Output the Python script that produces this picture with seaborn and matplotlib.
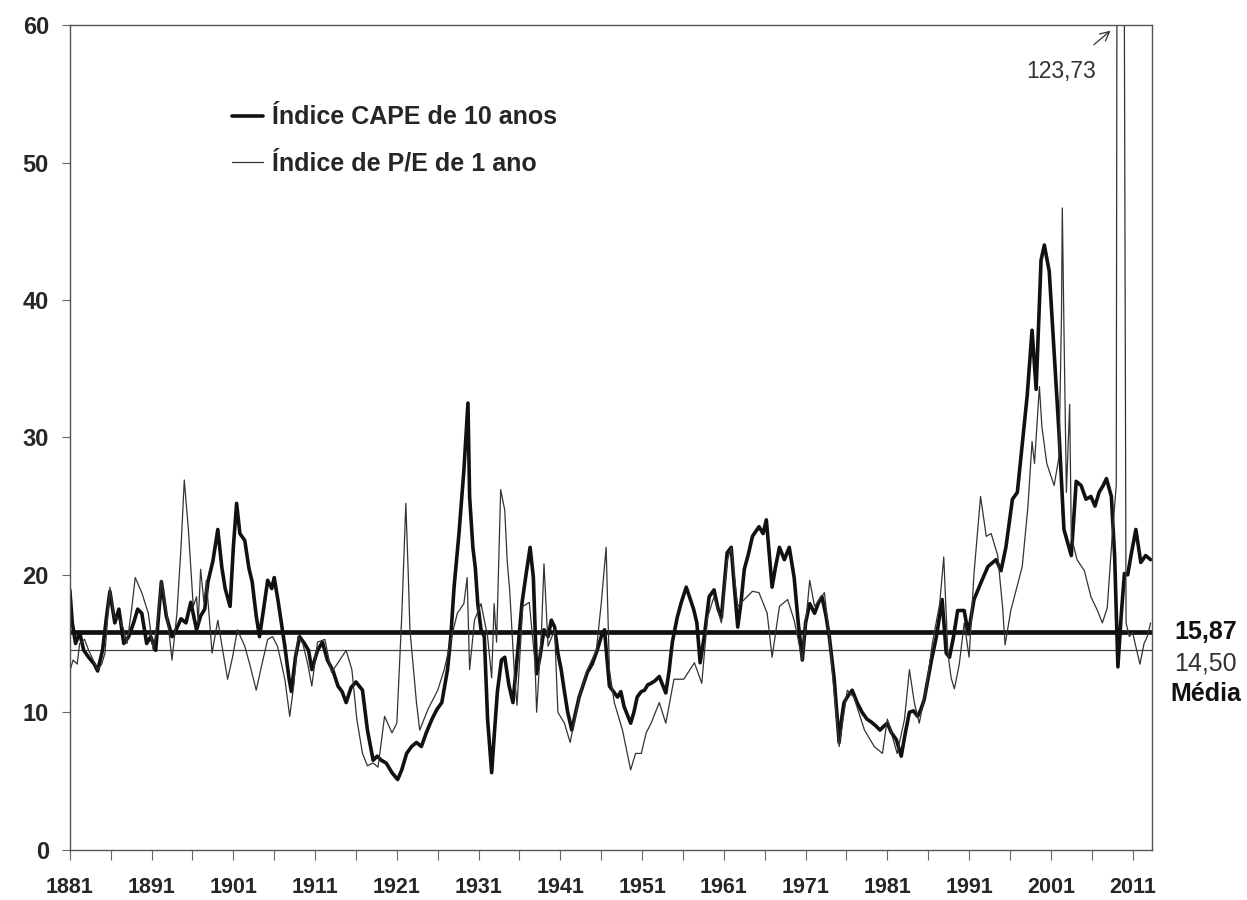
import matplotlib
matplotlib.use("Agg")
import matplotlib.pyplot as plt
from matplotlib.ticker import FixedLocator
import seaborn as sns

sns.set_theme(style="white")
plt.rcParams['font.family'] = ['Liberation Sans', 'DejaVu Sans']

# CAPE de 10 anos (linha grossa)
cape_year = [1881.0, 1881.3, 1881.7, 1882.2, 1882.7, 1883.3, 1884.0, 1884.4, 1885.0, 1885.5,
             1885.9, 1886.5, 1887.0, 1887.6, 1888.2, 1888.8, 1889.3, 1889.8, 1890.4, 1890.9,
             1891.5, 1892.2, 1892.8, 1893.5, 1894.0, 1894.6, 1895.2, 1895.8, 1896.5, 1897.0,
             1897.5, 1897.9, 1898.5, 1899.1, 1899.6, 1900.0, 1900.6, 1901.0, 1901.4, 1901.8,
             1902.4, 1902.9, 1903.3, 1903.8, 1904.2, 1904.7, 1905.2, 1905.7, 1906.0, 1906.5,
             1907.0, 1907.3, 1907.8, 1908.1, 1908.6, 1909.1, 1909.7, 1910.2, 1910.6, 1911.3,
             1911.9, 1912.5, 1913.2, 1913.8, 1914.3, 1914.8, 1915.4, 1916.0, 1916.8, 1917.4,
             1918.1, 1918.6, 1919.1, 1919.7, 1920.4, 1921.1, 1921.6, 1922.2, 1922.8, 1923.4,
             1924.0, 1924.6, 1925.3, 1925.9, 1926.5, 1927.2, 1927.6, 1928.0, 1928.6, 1929.2,
             1929.7, 1929.9, 1930.3, 1930.6, 1930.9, 1931.3, 1931.7, 1932.1, 1932.6, 1932.9,
             1933.3, 1933.8, 1934.2, 1934.7, 1935.2, 1935.8, 1936.3, 1936.8, 1937.3, 1937.7,
             1938.1, 1938.5, 1939.0, 1939.5, 1939.9, 1940.3, 1940.7, 1941.1, 1941.5, 1941.9,
             1942.4, 1942.8, 1943.3, 1943.8, 1944.3, 1944.9, 1945.5, 1946.0, 1946.4, 1947.0,
             1947.5, 1948.0, 1948.4, 1948.8, 1949.6, 1950.0, 1950.4, 1950.9, 1951.3, 1951.7,
             1952.1, 1952.6, 1953.1, 1953.9, 1954.3, 1954.7, 1955.3, 1955.8, 1956.4, 1956.8,
             1957.3, 1957.7, 1958.1, 1958.6, 1959.2, 1959.8, 1960.3, 1960.7, 1961.4, 1961.9,
             1962.3, 1962.7, 1963.1, 1963.5, 1964.0, 1964.5, 1965.3, 1965.8, 1966.2, 1966.9,
             1967.3, 1967.8, 1968.4, 1969.0, 1969.6, 1970.1, 1970.6, 1971.0, 1971.5, 1972.1,
             1972.6, 1973.0, 1973.5, 1973.9, 1974.5, 1975.1, 1975.4, 1975.7, 1976.2, 1976.7,
             1977.3, 1977.9, 1978.5, 1979.0, 1979.6, 1980.1, 1980.6, 1981.0, 1981.5, 1982.1,
             1982.7, 1983.2, 1983.7, 1984.2, 1984.7, 1985.1, 1985.5, 1986.0, 1986.4, 1987.0,
             1987.7, 1988.2, 1988.6, 1989.1, 1989.6, 1990.4, 1990.9, 1991.6, 1992.5, 1993.3,
             1994.3, 1994.9, 1995.5, 1996.3, 1996.9, 1997.5, 1998.1, 1998.7, 1999.2, 1999.8,
             2000.2, 2000.8, 2001.4, 2002.0, 2002.6, 2003.5, 2004.1, 2004.7, 2005.3, 2005.9,
             2006.4, 2006.9, 2007.4, 2007.8, 2008.4, 2008.8, 2009.2, 2009.6, 2010.0, 2010.4,
             2010.8, 2011.4, 2012.0, 2012.6, 2013.2]
cape_value = [18.9, 16.5, 15.0, 15.8, 14.5, 14.0, 13.5, 13.0, 14.5, 17.0,
              18.8, 16.5, 17.5, 15.0, 15.5, 16.5, 17.5, 17.2, 15.0, 15.5,
              14.5, 19.5, 17.0, 15.5, 16.0, 16.8, 16.5, 18.0, 16.0, 17.0,
              17.5, 19.5, 21.0, 23.3, 20.5, 19.0, 17.7, 22.0, 25.2, 23.0,
              22.5, 20.5, 19.5, 17.0, 15.5, 17.5, 19.6, 19.0, 19.8, 18.0,
              16.0, 14.8, 12.5, 11.5, 14.0, 15.5, 15.0, 14.5, 13.1, 14.5,
              15.1, 13.8, 13.0, 11.9, 11.5, 10.7, 11.8, 12.2, 11.6, 8.7,
              6.5, 6.8, 6.5, 6.3, 5.6, 5.1, 5.8, 7.0, 7.5, 7.8,
              7.5, 8.5, 9.5, 10.2, 10.7, 13.1, 15.5, 19.1, 23.0, 27.6,
              32.5, 25.7, 22.0, 20.5, 17.9, 16.0, 15.5, 9.5, 5.6, 8.2,
              11.5, 13.8, 14.0, 12.0, 10.7, 14.5, 17.9, 20.0, 22.0, 19.8,
              12.8, 14.0, 16.0, 15.5, 16.7, 16.2, 14.3, 13.1, 11.5, 10.0,
              8.7, 9.8, 11.1, 12.0, 12.9, 13.5, 14.5, 15.5, 16.0, 11.9,
              11.5, 11.1, 11.5, 10.4, 9.2, 10.0, 11.1, 11.5, 11.6, 12.0,
              12.1, 12.3, 12.6, 11.4, 13.0, 15.1, 16.9, 18.0, 19.1, 18.4,
              17.5, 16.5, 13.6, 15.5, 18.4, 18.9, 17.5, 16.9, 21.6, 22.0,
              19.0, 16.2, 18.0, 20.4, 21.5, 22.8, 23.5, 23.0, 24.0, 19.1,
              20.5, 22.0, 21.1, 22.0, 19.8, 16.5, 13.8, 16.5, 17.9, 17.2,
              18.0, 18.4, 17.0, 15.5, 12.4, 7.8, 9.5, 10.7, 11.2, 11.6,
              10.7, 10.0, 9.5, 9.3, 9.0, 8.7, 9.0, 9.2, 8.5, 8.0,
              6.8, 8.5, 10.0, 10.1, 9.7, 10.2, 10.9, 12.5, 13.8, 15.5,
              18.2, 14.3, 14.0, 15.5, 17.4, 17.4, 15.7, 18.2, 19.5, 20.6,
              21.1, 20.3, 22.0, 25.5, 26.0, 29.5, 33.0, 37.8, 33.5, 42.9,
              44.0, 42.1, 36.2, 30.3, 23.3, 21.4, 26.8, 26.5, 25.5, 25.7,
              25.0, 26.0, 26.5, 27.0, 25.7, 21.4, 13.3, 17.0, 20.1, 20.0,
              21.4, 23.3, 20.9, 21.4, 21.1]

# P/E de 1 ano (linha fina)
pe_year = [1881.0, 1881.4, 1881.9, 1882.2, 1882.8, 1883.3, 1883.7, 1884.4, 1884.9, 1885.3,
           1885.9, 1886.4, 1887.1, 1887.6, 1888.0, 1888.6, 1889.0, 1889.8, 1890.6, 1891.2,
           1891.7, 1892.2, 1893.0, 1893.5, 1894.1, 1894.6, 1895.0, 1895.5, 1896.1, 1896.5,
           1896.7, 1897.0, 1897.4, 1897.7, 1898.4, 1899.1, 1899.7, 1900.3, 1900.9, 1901.5,
           1902.4, 1903.0, 1903.8, 1904.5, 1905.2, 1905.8, 1906.4, 1906.9, 1907.3, 1907.9,
           1908.4, 1908.9, 1909.5, 1910.1, 1910.6, 1911.3, 1912.2, 1913.0, 1913.8, 1914.8,
           1915.5, 1916.1, 1916.8, 1917.4, 1918.1, 1918.7, 1919.5, 1920.4, 1921.0, 1921.6,
           1922.1, 1922.4, 1922.6, 1923.4, 1923.8, 1924.8, 1926.0, 1926.8, 1927.7, 1928.4,
           1929.2, 1929.6, 1929.9, 1930.5, 1931.3, 1932.1, 1932.6, 1932.9, 1933.2, 1933.7,
           1934.2, 1934.5, 1934.8, 1935.4, 1935.7, 1936.4, 1937.2, 1937.9, 1938.1, 1938.7,
           1939.0, 1939.5, 1940.3, 1940.7, 1941.5, 1942.2, 1943.3, 1944.3, 1945.4, 1946.0,
           1946.6, 1947.0, 1947.6, 1948.6, 1949.6, 1950.2, 1950.9, 1951.5, 1952.1, 1953.1,
           1953.9, 1954.9, 1956.1, 1957.4, 1958.3, 1959.0, 1959.8, 1960.7, 1961.4, 1961.9,
           1962.7, 1963.5, 1964.5, 1965.3, 1966.3, 1966.9, 1967.8, 1968.8, 1969.6, 1970.6,
           1971.5, 1972.1, 1973.3, 1973.9, 1974.5, 1975.1, 1976.1, 1976.9, 1978.2, 1979.4,
           1980.4, 1981.0, 1982.2, 1983.1, 1983.7, 1984.3, 1984.9, 1985.8, 1986.5, 1987.4,
           1987.9, 1988.4, 1988.8, 1989.2, 1989.8, 1990.4, 1991.0, 1991.6, 1992.4, 1993.1,
           1993.7, 1994.5, 1995.1, 1995.4, 1996.1, 1996.8, 1997.5, 1998.2, 1998.7, 1999.0,
           1999.6, 1999.9, 2000.5, 2001.4, 2002.0, 2002.3, 2002.4, 2002.6, 2002.9, 2003.3,
           2003.5, 2004.2, 2005.1, 2005.9, 2006.7, 2007.3, 2007.9, 2008.5, 2009.0, 2009.1,
           2009.5, 2009.9, 2010.2, 2010.6, 2011.0, 2011.5, 2011.9, 2012.4, 2012.8, 2013.2]
pe_value = [13.0, 13.8, 13.5, 15.0, 15.3, 14.5, 14.0, 13.1, 13.5, 14.3,
            19.1, 17.0, 16.7, 16.0, 15.0, 17.7, 19.8, 18.7, 17.2, 14.5,
            16.5, 19.6, 16.5, 13.8, 17.2, 22.0, 26.9, 23.3, 17.7, 18.4,
            16.5, 20.4, 18.0, 19.6, 14.3, 16.7, 14.5, 12.4, 14.0, 16.0,
            14.8, 13.5, 11.6, 13.5, 15.3, 15.5, 14.8, 13.5, 12.4, 9.7,
            12.0, 15.5, 15.0, 13.5, 11.9, 15.1, 15.3, 12.9, 13.6, 14.5,
            13.1, 9.5, 7.0, 6.1, 6.3, 6.0, 9.7, 8.5, 9.2, 17.0,
            25.2, 20.0, 16.0, 10.7, 8.7, 10.2, 11.6, 13.1, 15.5, 17.2,
            17.9, 19.8, 13.1, 16.7, 17.9, 15.5, 12.5, 17.9, 15.1, 26.2,
            24.7, 21.0, 18.9, 12.6, 10.5, 17.7, 18.0, 13.6, 10.0, 16.0,
            20.8, 14.8, 16.0, 10.0, 9.2, 7.8, 11.1, 13.1, 14.5, 17.9,
            22.0, 13.1, 10.7, 8.7, 5.8, 7.0, 7.0, 8.5, 9.2, 10.7,
            9.2, 12.4, 12.4, 13.6, 12.1, 16.9, 18.4, 16.5, 21.0, 22.0,
            17.7, 18.2, 18.8, 18.7, 17.2, 14.0, 17.7, 18.2, 16.7, 13.8,
            19.6, 17.7, 18.7, 15.5, 11.4, 7.5, 11.6, 11.1, 8.7, 7.5,
            7.0, 9.5, 7.0, 9.5, 13.1, 10.7, 9.2, 11.9, 15.0, 17.9,
            21.3, 14.3, 12.5, 11.7, 13.5, 16.5, 14.0, 20.1, 25.7, 22.8,
            23.0, 21.4, 17.6, 14.9, 17.4, 19.0, 20.6, 25.0, 29.7, 28.1,
            33.7, 30.8, 28.1, 26.5, 28.6, 38.9, 46.7, 38.0, 26.0, 32.4,
            22.8, 21.1, 20.3, 18.4, 17.4, 16.5, 17.6, 22.8, 26.5, 70.0,
            123.73, 80.0, 16.5, 15.5, 15.8, 14.5, 13.5, 15.0, 15.5, 16.5]

mean_labels = ["15,87", "14,50"]
mean_values = [15.87, 14.50]
legend_labels = ["Índice CAPE de 10 anos", "Índice de P/E de 1 ano"]
x_ticks = list(range(1881, 2012, 10))
y_ticks = [0, 10, 20, 30, 40, 50, 60]

fig = plt.figure(figsize=(12.47, 9.0), dpi=100)
ax = fig.add_axes([0.056, 0.056, 0.868, 0.916])

sns.lineplot(x=cape_year, y=cape_value, ax=ax, color='#111111', linewidth=2.6,
             estimator=None, sort=False, label=legend_labels[0])
sns.lineplot(x=pe_year, y=pe_value, ax=ax, color='#333333', linewidth=0.9,
             estimator=None, sort=False, label=legend_labels[1])

ax.axhline(mean_values[0], color='#111111', linewidth=3.4, zorder=1)
ax.axhline(mean_values[1], color='#444444', linewidth=0.9, zorder=1)

ax.set_xlim(1881, 2013.4)
ax.set_ylim(0, 60)
ax.xaxis.set_major_locator(FixedLocator(x_ticks))
ax.xaxis.set_minor_locator(FixedLocator([t + 5 for t in x_ticks]))
ax.yaxis.set_major_locator(FixedLocator(y_ticks))
ax.set_xticklabels([str(t) for t in x_ticks], fontsize=15.5, fontweight='bold',
                   family=['Liberation Sans Narrow', 'Liberation Sans'])
ax.set_yticklabels([str(t) for t in y_ticks], fontsize=17, fontweight='bold')
ax.tick_params(axis='x', which='both', direction='out', length=7, width=0.8,
               color='#666666', bottom=True, pad=13)
ax.tick_params(axis='y', direction='out', length=6, width=0.8, color='#666666', left=True, pad=9)
ax.set_xlabel('')
ax.set_ylabel('')
for side in ax.spines:
    ax.spines[side].set_color('#555555')
    ax.spines[side].set_linewidth(1.0)

leg = ax.legend(loc='upper left', bbox_to_anchor=(0.129, 0.93), frameon=False,
                handlelength=1.25, handletextpad=0.35, labelspacing=0.9,
                prop={'size': 18, 'weight': 'bold'})
leg.get_lines()[0].set_linewidth(2.6)
leg.get_lines()[1].set_linewidth(0.9)

ax.annotate('123,73', xy=(2008.3, 59.6), xytext=(2002.3, 56.6), fontsize=16.5,
            color='#333333', ha='center', va='center',
            arrowprops=dict(arrowstyle='->', color='#333333', lw=0.9, shrinkA=14, shrinkB=0))

ax.text(1.02, mean_values[0], mean_labels[0], transform=ax.get_yaxis_transform(),
        fontsize=18, fontweight='bold', va='center', ha='left', color='#111111')
ax.text(1.02, 13.55, mean_labels[1], transform=ax.get_yaxis_transform(),
        fontsize=18, va='center', ha='left', color='#333333')
ax.text(1.017, 11.3, "Média", transform=ax.get_yaxis_transform(),
        fontsize=18, fontweight='bold', va='center', ha='left', color='#111111')

fig.savefig('out.png', dpi=100)
